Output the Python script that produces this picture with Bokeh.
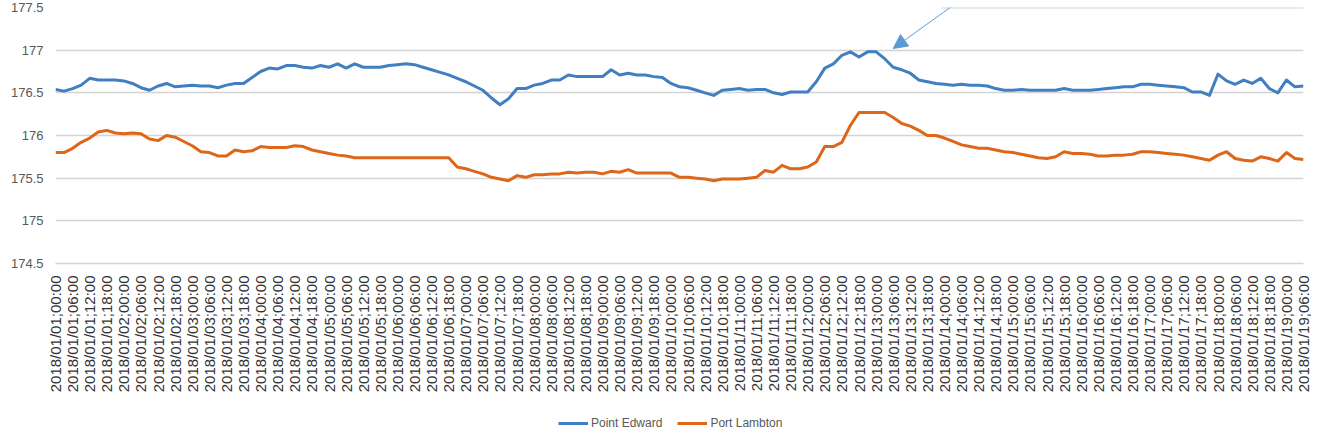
import math
import pandas as pd
from bokeh.plotting import figure
from bokeh.layouts import column
from bokeh.models import (FixedTicker, NumeralTickFormatter, Legend, LegendItem,
                          Arrow, NormalHead, Range1d)
from bokeh.embed import file_html
from bokeh.resources import INLINE

# ---------------- data ----------------
STEP_HOURS = 3  # readings every 3 hours from 2018/01/01 00:00

point_edward = [
    176.54, 176.52, 176.55, 176.59, 176.67, 176.65, 176.65, 176.65, 176.64, 176.61,
    176.56, 176.53, 176.58, 176.61, 176.57, 176.58, 176.59, 176.58, 176.58, 176.56,
    176.59, 176.61, 176.61, 176.68, 176.75, 176.79, 176.78, 176.82, 176.82, 176.80,
    176.79, 176.82, 176.80, 176.84, 176.79, 176.84, 176.80, 176.80, 176.80, 176.82,
    176.83, 176.84, 176.83, 176.80, 176.77, 176.74, 176.71, 176.67, 176.63, 176.58,
    176.53, 176.44, 176.36, 176.43, 176.55, 176.55, 176.59, 176.61, 176.65, 176.65,
    176.71, 176.69, 176.69, 176.69, 176.69, 176.77, 176.71, 176.73, 176.71, 176.71,
    176.69, 176.68, 176.61, 176.57, 176.56, 176.53, 176.50, 176.47, 176.53, 176.54,
    176.55, 176.53, 176.54, 176.54, 176.50, 176.48, 176.51, 176.51, 176.51, 176.63,
    176.79, 176.84, 176.94, 176.98, 176.92, 176.98, 176.98, 176.90, 176.80, 176.77,
    176.73, 176.65, 176.63, 176.61, 176.60, 176.59, 176.60, 176.59, 176.59, 176.58,
    176.55, 176.53, 176.53, 176.54, 176.53, 176.53, 176.53, 176.53, 176.55, 176.53,
    176.53, 176.53, 176.54, 176.55, 176.56, 176.57, 176.57, 176.60, 176.60, 176.59,
    176.58, 176.57, 176.56, 176.51, 176.51, 176.47, 176.72, 176.64, 176.60, 176.65,
    176.61, 176.67, 176.55, 176.50, 176.65, 176.57, 176.58,
]

port_lambton = [
    175.80, 175.80, 175.85, 175.92, 175.97, 176.04, 176.06, 176.03, 176.02, 176.03,
    176.02, 175.96, 175.94, 176.00, 175.98, 175.93, 175.88, 175.81, 175.80, 175.76,
    175.76, 175.83, 175.81, 175.82, 175.87, 175.86, 175.86, 175.86, 175.88, 175.87,
    175.83, 175.81, 175.79, 175.77, 175.76, 175.74, 175.74, 175.74, 175.74, 175.74,
    175.74, 175.74, 175.74, 175.74, 175.74, 175.74, 175.74, 175.63, 175.61, 175.58,
    175.55, 175.51, 175.49, 175.47, 175.53, 175.51, 175.54, 175.54, 175.55, 175.55,
    175.57, 175.56, 175.57, 175.57, 175.55, 175.58, 175.57, 175.60, 175.56, 175.56,
    175.56, 175.56, 175.56, 175.51, 175.51, 175.50, 175.49, 175.47, 175.49, 175.49,
    175.49, 175.50, 175.51, 175.59, 175.57, 175.65, 175.61, 175.61, 175.63, 175.69,
    175.87, 175.87, 175.92, 176.12, 176.27, 176.27, 176.27, 176.27, 176.21, 176.14,
    176.11, 176.06, 176.00, 176.00, 175.97, 175.93, 175.89, 175.87, 175.85, 175.85,
    175.83, 175.81, 175.80, 175.78, 175.76, 175.74, 175.73, 175.75, 175.81, 175.79,
    175.79, 175.78, 175.76, 175.76, 175.77, 175.77, 175.78, 175.81, 175.81, 175.80,
    175.79, 175.78, 175.77, 175.75, 175.73, 175.71, 175.77, 175.81, 175.73, 175.71,
    175.70, 175.75, 175.73, 175.70, 175.80, 175.73, 175.72,
]

series_names = ["Point Edward", "Port Lambton"]
y_ticks = [174.5, 175.0, 175.5, 176.0, 176.5, 177.0, 177.5]
tick_times = pd.date_range("2018-01-01 00:00", "2018-01-19 06:00", freq="6h")
tick_labels = [t.strftime("%Y/%m/%d;%H:%M") for t in tick_times]

hours = [i * STEP_HOURS for i in range(len(point_edward))]
tick_hours = [i * 6 for i in range(len(tick_labels))]

# annotation arrow (points at the Point Edward crest)
arrow_tail = (319.0, 177.62)
arrow_tip = (294.0, 177.02)
top_rule_start = 311.0

# ---------------- styling ----------------
BLUE = "#3f7fc2"
ORANGE = "#dd6619"
GRID = "#d4d4d4"
TEXT = "#595959"
FONT = "Liberation Sans"

p = figure(frame_width=1248, frame_height=256, output_backend="svg", toolbar_location=None,
           x_range=Range1d(0, tick_hours[-1]), y_range=Range1d(174.5, 177.5),
           min_border_left=55, min_border_right=8, min_border_top=7,
           min_border_bottom=0)
p.outline_line_color = None
p.background_fill_color = "white"
p.border_fill_color = "white"

l1 = p.line(hours, point_edward, line_color=BLUE, line_width=3, line_join="round")
l2 = p.line(hours, port_lambton, line_color=ORANGE, line_width=3, line_join="round")

# y axis
p.yaxis.ticker = FixedTicker(ticks=y_ticks)
p.yaxis.formatter = NumeralTickFormatter(format="0.[0]")
p.yaxis.axis_line_color = None
p.yaxis.major_tick_line_color = None
p.yaxis.major_tick_out = 0
p.yaxis.major_tick_in = 0
p.yaxis.minor_tick_line_color = None
p.yaxis.major_label_standoff = 12
p.yaxis.major_label_text_font = FONT
p.yaxis.major_label_text_font_size = "13px"
p.yaxis.major_label_text_color = TEXT
p.ygrid.ticker = FixedTicker(ticks=y_ticks[:-1])
p.ygrid.grid_line_color = GRID
p.ygrid.grid_line_width = 1.5

# partial top rule visible in the source
p.segment(x0=[top_rule_start], y0=[y_ticks[-1]], x1=[tick_hours[-1]], y1=[y_ticks[-1]],
          line_color=GRID, line_width=2)

# x axis
p.xaxis.ticker = FixedTicker(ticks=tick_hours)
p.xaxis.major_label_overrides = {h: lab for h, lab in zip(tick_hours, tick_labels)}
p.xaxis.major_label_orientation = math.pi / 2
p.xaxis.axis_line_color = GRID
p.xaxis.axis_line_width = 1.5
p.xaxis.major_tick_line_color = None
p.xaxis.major_tick_out = 0
p.xaxis.major_tick_in = 0
p.xaxis.minor_tick_line_color = None
p.xaxis.major_label_standoff = 12
p.xaxis.major_label_text_font = FONT
p.xaxis.major_label_text_font_size = "15px"
p.xaxis.major_label_text_color = "#333333"
p.xgrid.grid_line_color = None

# arrow annotation
p.add_layout(Arrow(x_start=arrow_tail[0], y_start=arrow_tail[1],
                   x_end=arrow_tip[0], y_end=arrow_tip[1],
                   line_color="#5b9bd5", line_width=1,
                   end=NormalHead(size=14, fill_color="#5b9bd5", line_color="#5b9bd5")))

# legend strip below the chart (legend-only renderers, nothing drawn in the strip)
lf = figure(width=1311, height=36, output_backend="svg", toolbar_location=None,
            x_range=Range1d(0, 1), y_range=Range1d(0, 1),
            x_axis_location=None, y_axis_location=None,
            min_border=0, outline_line_color=None)
lf.grid.grid_line_color = None
nan_pair = [float("nan"), float("nan")]
g1 = lf.line(x=[0, 1], y=nan_pair, line_color=BLUE, line_width=3)
g2 = lf.line(x=[0, 1], y=nan_pair, line_color=ORANGE, line_width=3)
legend = Legend(items=[LegendItem(label=series_names[0], renderers=[g1]),
                       LegendItem(label=series_names[1], renderers=[g2])],
                orientation="horizontal", location=(503, 0),
                label_text_font=FONT, label_text_font_size="12px",
                label_text_color=TEXT, glyph_width=30, glyph_height=16,
                label_standoff=3, spacing=15, padding=4, margin=0,
                border_line_color=None, background_fill_alpha=0)
lf.add_layout(legend, "center")

open("out.html", "w").write(file_html(column(p, lf, spacing=0), INLINE))
